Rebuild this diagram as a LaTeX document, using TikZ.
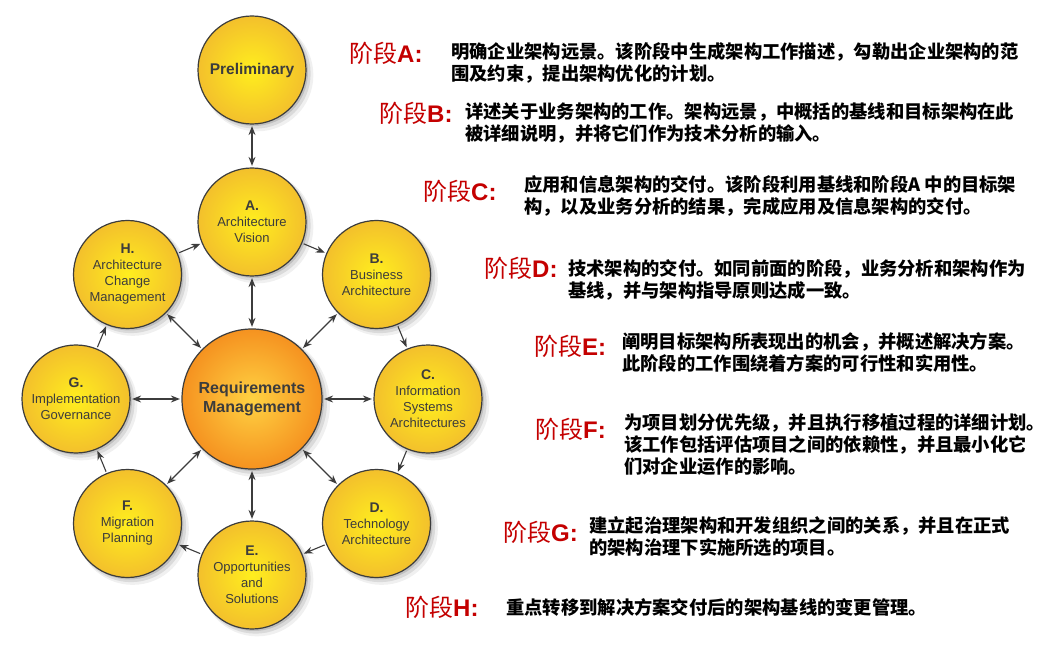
\documentclass[tikz,border=0pt]{standalone}
\usepackage{fontspec}
\setmainfont{Liberation Sans}
\newfontfamily\cjkfont{Noto Sans CJK SC}
\usetikzlibrary{arrows.meta,shadows}

\definecolor{ringin}{RGB}{255,238,30}
\definecolor{ringout}{RGB}{243,192,44}
\definecolor{reqin}{RGB}{255,210,66}
\definecolor{reqout}{RGB}{245,146,32}
\definecolor{rimgray}{RGB}{60,60,60}
\definecolor{labelred}{RGB}{196,0,0}

\tikzset{
  softshadow/.style={
    drop shadow={shadow xshift=2pt, shadow yshift=-2pt, fill=black, opacity=0.12},
    drop shadow={shadow xshift=3.5pt, shadow yshift=-3.5pt, shadow scale=1.02, fill=black, opacity=0.09},
    drop shadow={shadow xshift=5pt, shadow yshift=-5pt, shadow scale=1.04, fill=black, opacity=0.06}},
  phase/.style={circle, draw=rimgray, line width=1.2pt, minimum size=108pt, inner sep=0pt,
    inner color=ringin, outer color=ringout, text=rimgray, align=center,
    font=\fontsize{13}{16}\selectfont, softshadow},
  reqphase/.style={phase, minimum size=140pt, inner color=reqin, outer color=reqout,
    font=\bfseries\fontsize{16}{19}\selectfont},
  link/.style={draw=rimgray, line width=1.1pt, -{Stealth[length=9pt,width=7pt]},
    shorten >=1.5pt, shorten <=1.5pt},
  biglink/.style={link, {Stealth[length=9pt,width=7pt]}-{Stealth[length=9pt,width=7pt]}},
  stagelabel/.style={anchor=base west, inner sep=0pt, text=labelred,
    font=\fontsize{24}{24}\selectfont},
  stagetext/.style={anchor=base west, inner sep=0pt, text=black,
    font=\cjkfont\bfseries\fontsize{18.3}{22}\selectfont}
}

\begin{document}
\begin{tikzpicture}[x=1pt,y=1pt]
  \path[fill=white] (0,0) rectangle (1048,659);
  \useasboundingbox (0,0) rectangle (1048,659);

  % the cycle
  \node[reqphase] (req) at (252,260) {Requirements\\Management};
  \node[phase, font=\bfseries\fontsize{15.5}{18}\selectfont] (pre) at (252,589) {Preliminary};
  \node[phase] (pa) at (252,437) {{\bfseries\fontsize{14}{16}\selectfont A.}\\Architecture\\Vision};
  \node[phase] (pb) at (376.5,384.5) {{\bfseries\fontsize{14}{16}\selectfont B.}\\Business\\Architecture};
  \node[phase] (pc) at (428,260) {{\bfseries\fontsize{14}{16}\selectfont C.}\\Information\\Systems\\Architectures};
  \node[phase] (pd) at (376.5,135.5) {{\bfseries\fontsize{14}{16}\selectfont D.}\\Technology\\Architecture};
  \node[phase] (pe) at (252,84) {{\bfseries\fontsize{14}{16}\selectfont E.}\\Opportunities\\and\\Solutions};
  \node[phase] (pf) at (127.5,135.5) {{\bfseries\fontsize{14}{16}\selectfont F.}\\Migration\\Planning};
  \node[phase] (pg) at (76,260) {{\bfseries\fontsize{14}{16}\selectfont G.}\\Implementation\\Governance};
  \node[phase] (ph) at (127.5,384.5) {{\bfseries\fontsize{14}{16}\selectfont H.}\\Architecture\\Change\\Management};

  \draw[biglink] (pre) -- (pa);

  \draw[link] (pa) -- (pb);
  \draw[link] (pb) -- (pc);
  \draw[link] (pc) -- (pd);
  \draw[link] (pd) -- (pe);
  \draw[link] (pe) -- (pf);
  \draw[link] (pf) -- (pg);
  \draw[link] (pg) -- (ph);
  \draw[link] (ph) -- (pa);

  \draw[biglink] (req) -- (pa);
  \draw[biglink] (req) -- (pb);
  \draw[biglink] (req) -- (pc);
  \draw[biglink] (req) -- (pd);
  \draw[biglink] (req) -- (pe);
  \draw[biglink] (req) -- (pf);
  \draw[biglink] (req) -- (pg);
  \draw[biglink] (req) -- (ph);

  % notes on the right
  \node[stagelabel] (la) at (349,596) {{\cjkfont 阶段}\textbf{A:}};
  \node[stagetext] (ta) at (451,600) {\parbox[t]{600pt}{明确企业架构远景。该阶段中生成架构工作描述，勾勒出企业架构的范\\围及约束，提出架构优化的计划。}};

  \node[stagelabel] (lb) at (379,536) {{\cjkfont 阶段}\textbf{B:}};
  \node[stagetext] (tb) at (465,540) {\parbox[t]{600pt}{详述关于业务架构的工作。架构远景，中概括的基线和目标架构在此\\被详细说明，并将它们作为技术分析的输入。}};

  \node[stagelabel] (lc) at (423,458) {{\cjkfont 阶段}\textbf{C:}};
  \node[stagetext] (tc) at (524,467) {\parbox[t]{600pt}{应用和信息架构的交付。该阶段利用基线和阶段A 中的目标架\\构，以及业务分析的结果，完成应用及信息架构的交付。}};

  \node[stagelabel] (ld) at (484,381) {{\cjkfont 阶段}\textbf{D:}};
  \node[stagetext] (td) at (568,383) {\parbox[t]{600pt}{技术架构的交付。如同前面的阶段，业务分析和架构作为\\基线，并与架构指导原则达成一致。}};

  \node[stagelabel] (le) at (534,303) {{\cjkfont 阶段}\textbf{E:}};
  \node[stagetext] (te) at (622,310) {\parbox[t]{600pt}{阐明目标架构所表现出的机会，并概述解决方案。\\此阶段的工作围绕着方案的可行性和实用性。}};

  \node[stagelabel] (lf) at (535,221) {{\cjkfont 阶段}\textbf{F:}};
  \node[stagetext] (tf) at (624,230) {\parbox[t]{600pt}{为项目划分优先级，并且执行移植过程的详细计划。\\该工作包括评估项目之间的依赖性，并且最小化它\\们对企业运作的影响。}};

  \node[stagelabel] (lg) at (503,118) {{\cjkfont 阶段}\textbf{G:}};
  \node[stagetext] (tg) at (589,127) {\parbox[t]{600pt}{建立起治理架构和开发组织之间的关系，并且在正式\\的架构治理下实施所选的项目。}};

  \node[stagelabel] (lh) at (405,43) {{\cjkfont 阶段}\textbf{H:}};
  \node[stagetext] (th) at (506,45) {\parbox[t]{600pt}{重点转移到解决方案交付后的架构基线的变更管理。}};
\end{tikzpicture}
\end{document}
